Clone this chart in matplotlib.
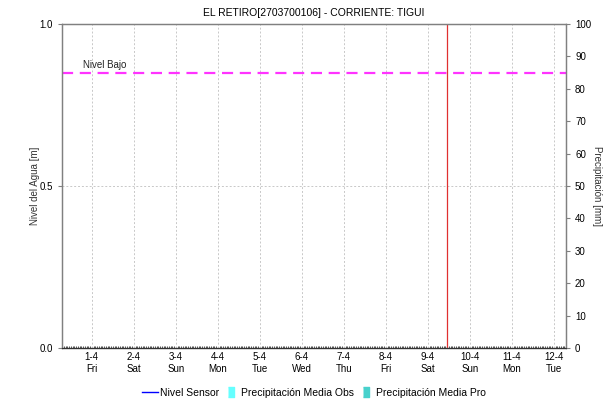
import matplotlib
matplotlib.use("Agg")
import matplotlib.pyplot as plt
import matplotlib.dates as mdates
from matplotlib.lines import Line2D
import numpy as np
import datetime as dt

plt.rcParams['font.family'] = ['Liberation Sans', 'DejaVu Sans']

# data
title = "EL RETIRO[2703700106] - CORRIENTE: TIGUI"
day_ticks = [dt.datetime(2022, 4, d) for d in range(1, 13)]
day_labels = ["1-4\nFri", "2-4\nSat", "3-4\nSun", "4-4\nMon", "5-4\nTue", "6-4\nWed",
              "7-4\nThu", "8-4\nFri", "9-4\nSat", "10-4\nSun", "11-4\nMon", "12-4\nTue"]
x_start = dt.datetime(2022, 3, 31, 7, 0)
x_end = dt.datetime(2022, 4, 12, 7, 0)
now_marker = dt.datetime(2022, 4, 9, 10, 48)
nivel_bajo = 0.85
# no readings in this window
sensor_times = []
sensor_levels = []
precip_times = []
precip_obs = []
precip_pro = []

fig = plt.figure(figsize=(6.12, 4.04), dpi=100)
ax = fig.add_axes([62 / 612, 1 - 348 / 404, 504 / 612, 324 / 404])
ax2 = ax.twinx()

ax2.bar(precip_times, precip_obs, width=0.04, color="#66ffff")
ax2.bar(precip_times, precip_pro, width=0.04, color="#48d1cc")
ax.plot(sensor_times, sensor_levels, color="blue", lw=1)

ax.axhline(nivel_bajo, color="#ff33ff", lw=1.6, ls=(0, (5, 3)))
ax.text(mdates.date2num(x_start) + 0.5, nivel_bajo + 0.008, "Nivel Bajo",
        fontsize=7, color="#222222", va="bottom")
ax.axvline(now_marker, color="#e03030", lw=0.9)

ax.set_xlim(x_start, x_end)
ax.set_ylim(0, 1)
ax2.set_ylim(0, 100)
ax.set_xticks(day_ticks)
ax.set_xticklabels(day_labels, fontsize=7, linespacing=1.25)
ax.xaxis.set_minor_locator(mdates.HourLocator(interval=1))
ax.tick_params(axis="x", which="minor", length=1.5, direction="in", color="#333333")
ax.set_yticks([0, 0.5, 1.0])
ax.set_yticklabels(["0.0", "0.5", "1.0"], fontsize=7)
ax2.set_yticks(np.arange(0, 101, 10))
ax2.tick_params(axis="y", labelsize=7, length=3, color="#808080")
ax.tick_params(axis="y", length=3, color="#808080")
ax.tick_params(axis="x", which="major", length=0, pad=3)

ax.grid(True, axis="x", color="#c8c8c8", ls=(0, (2, 2)), lw=0.7)
ax.grid(True, axis="y", color="#c8c8c8", ls=(0, (2, 2)), lw=0.7)

for a in (ax, ax2):
    for s in a.spines.values():
        s.set_color("#808080")
        s.set_linewidth(0.9)
ax2.spines["bottom"].set_color("#333333")
ax2.spines["bottom"].set_linestyle((0, (1, 1)))

ax.set_ylabel("Nivel del Agua [m]", fontsize=7, color="#333333", labelpad=0)
ax2.set_ylabel("Precipitación [mm]", fontsize=7, color="#333333", rotation=-90, labelpad=8)
ax.set_title(title, fontsize=7.5, pad=6)

bar_marker = [(-0.28, -0.5), (0.28, -0.5), (0.28, 0.5), (-0.28, 0.5)]
handles = [Line2D([0], [0], color="blue", lw=1),
           Line2D([0], [0], ls="none", marker=bar_marker, markersize=7.5,
                  markerfacecolor="#66ffff", markeredgecolor="#66ffff"),
           Line2D([0], [0], ls="none", marker=bar_marker, markersize=7.5,
                  markerfacecolor="#48d1cc", markeredgecolor="#48d1cc")]
fig.legend(handles, ["Nivel Sensor", "Precipitación Media Obs", "Precipitación Media Pro"],
           loc="center", bbox_to_anchor=(314 / 612, 1 - 393 / 404), ncol=3, frameon=False,
           fontsize=7.5, handlelength=1.5, handletextpad=0.2, columnspacing=0.4)

fig.savefig("out.png", dpi=100)
